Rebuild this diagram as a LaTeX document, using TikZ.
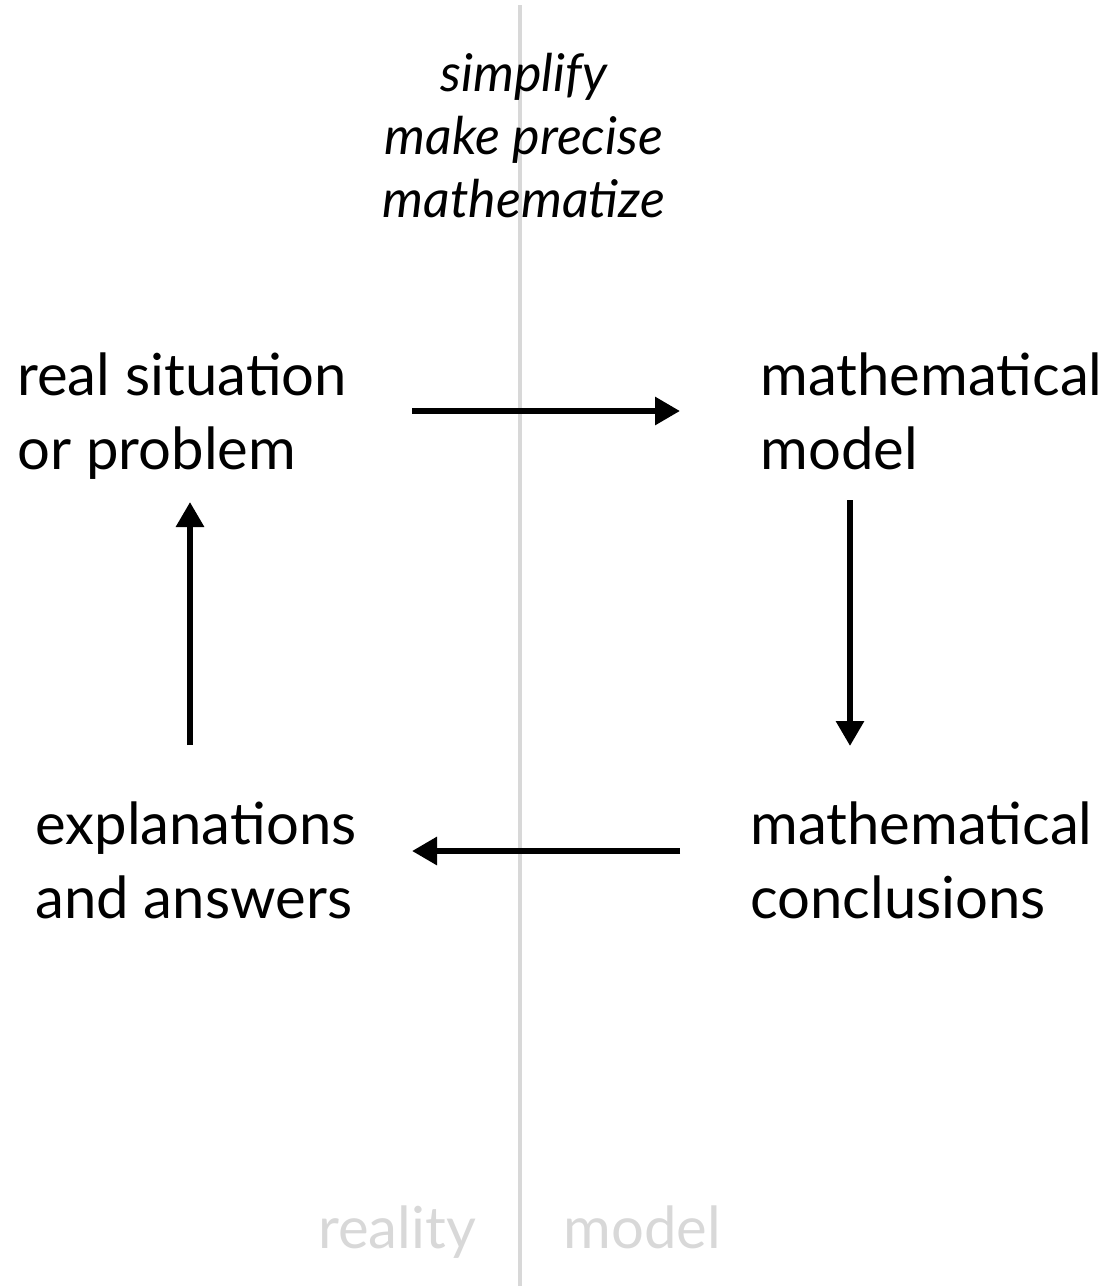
\documentclass[tikz,border=0pt]{standalone}
\usepackage{fontspec}
\setmainfont{Lato}
\usetikzlibrary{arrows.meta}
\definecolor{divgray}{RGB}{216,216,216}
\begin{document}
\begin{tikzpicture}[x=0.5pt,y=-0.5pt,
  lbl/.style={font=\fontsize{29pt}{37pt}\selectfont, align=left, inner sep=0pt, anchor=base west},
  act/.style={font=\fontsize{26pt}{31.5pt}\selectfont\itshape, align=center, inner sep=0pt, anchor=base},
  side/.style={font=\fontsize{29pt}{30pt}\selectfont, text=divgray, inner sep=0pt, anchor=base west},
  divider/.style={draw=divgray, line width=2pt},
  flow/.style={-{Triangle[length=12.5pt,width=13.5pt]}, line width=3pt}]
\useasboundingbox (0,0) rectangle (1105,1286);
\draw[divider] (520,5) -- (520,1286);
\node[act] (acts) at (524,217) {simplify\\make precise\\mathematize};
\node[lbl] (real) at (17,469) {real situation\\or problem};
\node[lbl] (model) at (760,469) {mathematical\\model};
\node[lbl] (expl) at (35,918) {explanations\\and answers};
\node[lbl] (concl) at (750,918) {mathematical\\conclusions};
\node[side] (reality) at (318,1248) {reality};
\node[side] (modelside) at (563,1248) {model};
\coordinate (r1) at (412,411); \coordinate (m1) at (680,411);
\coordinate (m2) at (850,500); \coordinate (c2) at (850,746);
\coordinate (c3) at (680,851); \coordinate (e3) at (412,851);
\coordinate (e4) at (190,745); \coordinate (r4) at (190,502);
\draw[flow] (r1) -- (m1);
\draw[flow] (m2) -- (c2);
\draw[flow] (c3) -- (e3);
\draw[flow] (e4) -- (r4);
\end{tikzpicture}
\end{document}
